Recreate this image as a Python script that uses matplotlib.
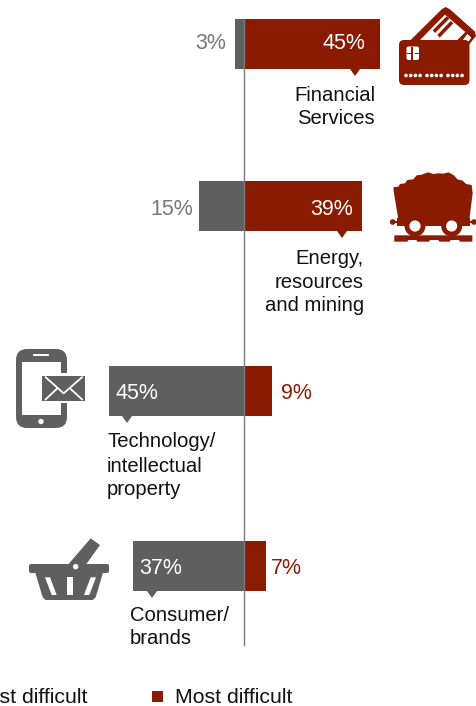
import numpy as np
import matplotlib
matplotlib.use("Agg")
import matplotlib.pyplot as plt
from matplotlib.patches import Polygon, Circle, FancyBboxPatch, Rectangle

plt.rcParams['font.family'] = ['Liberation Sans', 'DejaVu Sans']

least_difficult = [3, 15, 45, 37]
most_difficult = [45, 39, 9, 7]
categories = [
    ["Financial", "Services"],
    ["Energy,", "resources", "and mining"],
    ["Technology/", "intellectual", "property"],
    ["Consumer/", "brands"],
]
legend_labels = ["Least difficult", "Most difficult"]

RED = "#8a1a00"
GRAY = "#5f5f5f"
W, H = 476, 706
AXIS_X = 244
PX_PER_PCT = 3.0
FS_LABEL = 14.6
FS_PCT = 15.5
FS_LEGEND = 15.3

bar_top = [19, 181, 366, 541]
bar_h = 50
pointer_x = [355, 342, 127, 152]
pct_base = [49, 215, 399, 574]
least_x = [226, 193, 115, 139]
most_x = [365, 353, 281, 271]
label_x = [375, 364, 107, 130]
label_ha = ["right", "right", "left", "left"]
label_base = [[101, 124], [264, 288, 311], [447, 472, 495], [621, 644]]


def rounded(ax, x0, y0, x1, y1, r, color, z=3):
    ax.add_patch(FancyBboxPatch((x0 + r, y0 + r), x1 - x0 - 2 * r, y1 - y0 - 2 * r,
                                boxstyle=f"round,pad={r},rounding_size={r}",
                                fc=color, ec="none", zorder=z))


def poly(ax, pts, color, z=3, ox=0, oy=0):
    # icon outlines are sketched at 3x, so scale them down here
    pts = [(ox + x / 3, oy + y / 3) for x, y in pts]
    ax.add_patch(Polygon(pts, closed=True, fc=color, ec="none", zorder=z))


def card_icon(ax):
    ox, oy = 380, 0
    poly(ax, [(92, 120), (185, 28), (197, 21), (210, 28), (285, 95), (288, 108), (262, 140)], RED, ox=ox, oy=oy)
    poly(ax, [(118, 122), (195, 44), (256, 96), (230, 122)], "white", z=4, ox=ox, oy=oy)
    poly(ax, [(247, 122), (262, 102), (274, 113), (266, 124)], "white", z=4, ox=ox, oy=oy)
    poly(ax, [(158, 91), (200, 49), (208, 56), (165, 99)], RED, z=5, ox=ox, oy=oy)
    poly(ax, [(172, 105), (212, 63), (220, 70), (179, 113)], RED, z=5, ox=ox, oy=oy)
    rounded(ax, 399, 40, 469.5, 85, 5, RED, z=6)
    rounded(ax, 406.5, 46.5, 419, 60, 2, "white", z=7)
    ax.add_patch(Rectangle((411, 46.5), 1.5, 13.5, fc=RED, ec="none", zorder=8))
    ax.add_patch(Rectangle((406.5, 52.5), 4.5, 1.2, fc=RED, ec="none", zorder=8))
    ax.add_patch(Rectangle((415, 52.5), 4, 1.2, fc=RED, ec="none", zorder=8))
    for start in (406, 427, 448):
        for i in range(4):
            ax.add_patch(Circle((start + i * 4.7, 75.5), 1.8, fc="white", ec="none", zorder=7))


def cart_icon(ax):
    ox, oy = 380, 160
    poly(ax, [(40, 82), (55, 80), (60, 72), (75, 70), (82, 60), (100, 58), (110, 46), (125, 44), (145, 37),
              (160, 42), (175, 40), (190, 41), (205, 37), (222, 46), (232, 58), (248, 62), (258, 72), (275, 75),
              (278, 100), (268, 178), (55, 178), (42, 100)],
         RED, ox=ox, oy=oy)
    poly(ax, [(52, 175), (270, 175), (270, 198), (52, 198)], RED, ox=ox, oy=oy)
    poly(ax, [(38, 183), (282, 183), (282, 189), (38, 189)], RED, ox=ox, oy=oy)
    for bx in (38, 282):
        ax.add_patch(Circle((ox + bx / 3, oy + 186 / 3), 2.8, fc=RED, ec="none", zorder=3))
    for wx in (105, 215):
        ax.add_patch(Circle((ox + wx / 3, oy + 198 / 3), 10.5, fc=RED, ec="none", zorder=4))
        ax.add_patch(Circle((ox + wx / 3, oy + 198 / 3), 5.6, fc="white", ec="none", zorder=5))
    poly(ax, [(43, 226), (277, 226), (277, 245), (240, 245), (237, 240), (212, 240), (209, 245),
              (178, 245), (175, 240), (150, 240), (147, 245), (112, 245), (109, 240), (85, 240),
              (82, 245), (43, 245)], RED, ox=ox, oy=oy)


def phone_icon(ax):
    ox, oy = 0, 340
    rounded(ax, 16, 349, 67, 428, 11, GRAY)
    ax.add_patch(Rectangle((22, 362), 39, 53, fc="white", ec="none", zorder=4))
    rounded(ax, 33, 354, 49, 356, 0.8, "white", z=4)
    ax.add_patch(Circle((41, 421.5), 2.7, fc="white", ec="none", zorder=4))
    poly(ax, [(120, 100), (262, 100), (262, 190), (120, 190)], "white", z=5, ox=ox, oy=oy)
    poly(ax, [(127, 107), (255, 107), (255, 183), (127, 183)], GRAY, z=6, ox=ox, oy=oy)
    for seg in ([(135, 110), (191, 160), (248, 110)], [(135, 180), (172, 145)], [(248, 180), (210, 145)]):
        xs = [ox + p[0] / 3 for p in seg]
        ys = [oy + p[1] / 3 for p in seg]
        ax.plot(xs, ys, color="white", lw=1.3, zorder=7, solid_capstyle="butt")


def basket_icon(ax):
    ox, oy = 0, 530
    poly(ax, [(205, 103), (272, 25), (300, 45), (255, 108)], GRAY, ox=ox, oy=oy)
    rounded(ax, 29, 564, 109, 573, 2, GRAY)
    poly(ax, [(105, 125), (310, 125), (287, 202), (278, 210), (137, 210), (128, 202)], GRAY, ox=ox, oy=oy)
    ax.add_patch(Circle((ox + 227 / 3, oy + 110 / 3), 2.7, fc="white", ec="none", zorder=5))
    poly(ax, [(135, 142), (150, 142), (170, 195), (155, 195)], "white", z=5, ox=ox, oy=oy)
    poly(ax, [(201, 142), (220, 142), (220, 195), (201, 195)], "white", z=5, ox=ox, oy=oy)
    poly(ax, [(272, 142), (288, 142), (268, 195), (252, 195)], "white", z=5, ox=ox, oy=oy)


fig = plt.figure(figsize=(W / 100, H / 100), dpi=100)

# bars live on a percent axis centred on the divider
ax = fig.add_axes([0, 0, 1, 1])
ax.set_xlim(-AXIS_X / PX_PER_PCT, (W - AXIS_X) / PX_PER_PCT)
ax.set_ylim(H, 0)
ax.axis("off")

y_mid = [t + bar_h / 2 for t in bar_top]
ax.barh(y_mid, [-v for v in least_difficult], height=bar_h, color=GRAY, zorder=2)
ax.barh(y_mid, most_difficult, height=bar_h, left=0.33, color=RED, zorder=2)

# icons, pointers and text are placed in pixels on an overlay
ov = fig.add_axes([0, 0, 1, 1])
ov.set_xlim(0, W)
ov.set_ylim(H, 0)
ov.axis("off")
ov.patch.set_alpha(0)

ov.plot([AXIS_X, AXIS_X], [19, 645], color="#7a7a7a", lw=1, zorder=1)

for i in range(4):
    color = RED if i < 2 else GRAY
    bottom = bar_top[i] + bar_h
    ov.add_patch(Polygon([(pointer_x[i] - 5, bottom), (pointer_x[i] + 5, bottom), (pointer_x[i], bottom + 7)],
                         closed=True, fc=color, ec="none", zorder=3))
    if i < 2:
        ov.text(least_x[i], pct_base[i], f"{least_difficult[i]}%", color="#777777", fontsize=FS_PCT,
                ha="right", va="baseline")
        ov.text(most_x[i], pct_base[i], f"{most_difficult[i]}%", color="white", fontsize=FS_PCT,
                ha="right", va="baseline")
    else:
        ov.text(least_x[i], pct_base[i], f"{least_difficult[i]}%", color="white", fontsize=FS_PCT,
                ha="left", va="baseline")
        ov.text(most_x[i], pct_base[i], f"{most_difficult[i]}%", color=RED, fontsize=FS_PCT,
                ha="left", va="baseline")

for i, lines in enumerate(categories):
    for line, y in zip(lines, label_base[i]):
        ov.text(label_x[i], y, line, color="#111111", fontsize=FS_LABEL, ha=label_ha[i], va="baseline")

card_icon(ov)
cart_icon(ov)
phone_icon(ov)
basket_icon(ov)

# legend row, the left entry runs off the canvas
ov.add_patch(Rectangle((-54, 691), 11, 11, fc=GRAY, ec="none"))
ov.text(87, 703, legend_labels[0], color="#111111", fontsize=FS_LEGEND, ha="right", va="baseline")
ov.add_patch(Rectangle((152, 691), 11, 11, fc=RED, ec="none"))
ov.text(175, 703, legend_labels[1], color="#111111", fontsize=FS_LEGEND, ha="left", va="baseline")

fig.savefig("out.png", dpi=100)
